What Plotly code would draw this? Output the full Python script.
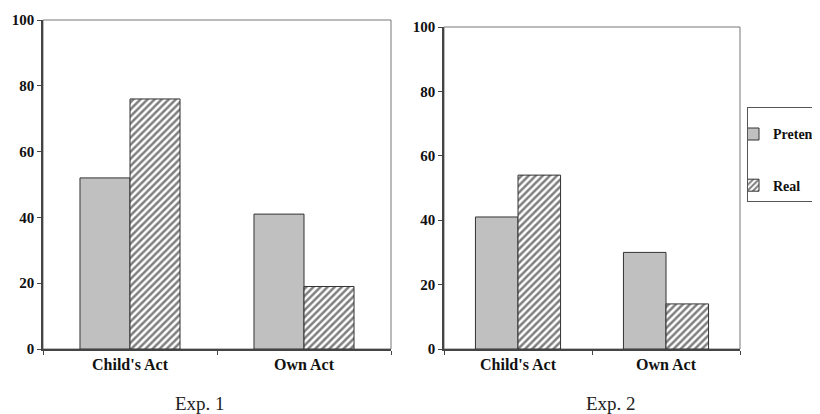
import plotly.graph_objects as go

categories = ["Child's Act", "Own Act"]
exp1_pretend = [52, 41]
exp1_real = [76, 19]
exp2_pretend = [41, 30]
exp2_real = [54, 14]
y_ticks = [0, 20, 40, 60, 80, 100]
panel_titles = ["Exp. 1", "Exp. 2"]
series_names = ["Pretend", "Real"]

SERIF = "Liberation Serif"
GRAY = "#c0c0c0"
EDGE = "#333333"
W, H = 812, 406  # page body adds an 8px margin

fig = go.Figure()

def add_panel(pretend, real, xa, ya, show):
    fig.add_trace(go.Bar(
        x=categories, y=pretend, name=series_names[0], xaxis=xa, yaxis=ya,
        marker=dict(color=GRAY, line=dict(color=EDGE, width=1)),
        legendgroup="p", showlegend=show))
    fig.add_trace(go.Bar(
        x=categories, y=real, name=series_names[1], xaxis=xa, yaxis=ya,
        marker=dict(color="white", line=dict(color=EDGE, width=1),
                    pattern=dict(shape="/", fgcolor="#000000", bgcolor="white",
                                 size=5, solidity=0.5)),
        legendgroup="r", showlegend=show))

add_panel(exp1_pretend, exp1_real, "x", "y", False)
add_panel(exp2_pretend, exp2_real, "x2", "y2", True)

def px(x):
    return (x - 8) / W

def py(y):
    return 1 - (y - 8) / H

dom1x = [px(43), px(391)]
dom1y = [py(349), py(20)]
dom2x = [px(444), px(740)]
dom2y = [py(349), py(27)]

xtickfont = dict(family=SERIF, size=16, color="#111", weight="bold")
ytickfont = dict(family=SERIF, size=15, color="#111", weight="bold")
xcommon = dict(showgrid=False, showline=True, linecolor="#444", linewidth=1.5,
               ticks="outside", ticklen=4, tickcolor="#444", tickson="boundaries",
               tickfont=xtickfont, zeroline=False, automargin=False)
ycommon = dict(range=[0, 100], tickvals=y_ticks, showgrid=False, showline=True,
               linecolor="#444", linewidth=1.5, ticks="outside", ticklen=4,
               tickcolor="#444", tickfont=ytickfont, zeroline=False, automargin=False)

fig.update_layout(
    width=W, height=H, margin=dict(l=0, r=0, t=0, b=0, autoexpand=False),
    paper_bgcolor="white", plot_bgcolor="white",
    barmode="group", bargap=0.425, bargroupgap=0,
    xaxis=dict(domain=dom1x, anchor="y", **xcommon),
    yaxis=dict(domain=dom1y, anchor="x", **ycommon),
    xaxis2=dict(domain=dom2x, anchor="y2", **xcommon),
    yaxis2=dict(domain=dom2y, anchor="x2", **ycommon),
    legend=dict(x=px(747), y=py(107), xanchor="left", yanchor="top",
                bordercolor="#555", borderwidth=1, bgcolor="white",
                font=dict(family=SERIF, size=14, color="#111", weight="bold"),
                title=dict(text=" ", font=dict(size=8)),
                traceorder="grouped", tracegroupgap=30, itemwidth=30,
                indentation=-15),
    font=dict(family=SERIF),
)

# panel borders (gray frame)
for dx, dy in [(dom1x, dom1y), (dom2x, dom2y)]:
    fig.add_shape(type="rect", xref="paper", yref="paper",
                  x0=dx[0], x1=dx[1], y0=dy[0], y1=dy[1],
                  line=dict(color="#777", width=1), layer="below")

for title, xc in zip(panel_titles, [200, 611]):
    fig.add_annotation(text=title, xref="paper", yref="paper",
                       x=px(xc), y=py(403), xanchor="center", yanchor="middle",
                       showarrow=False,
                       font=dict(family=SERIF, size=19, color="#222"))

fig.write_html("out.html")
